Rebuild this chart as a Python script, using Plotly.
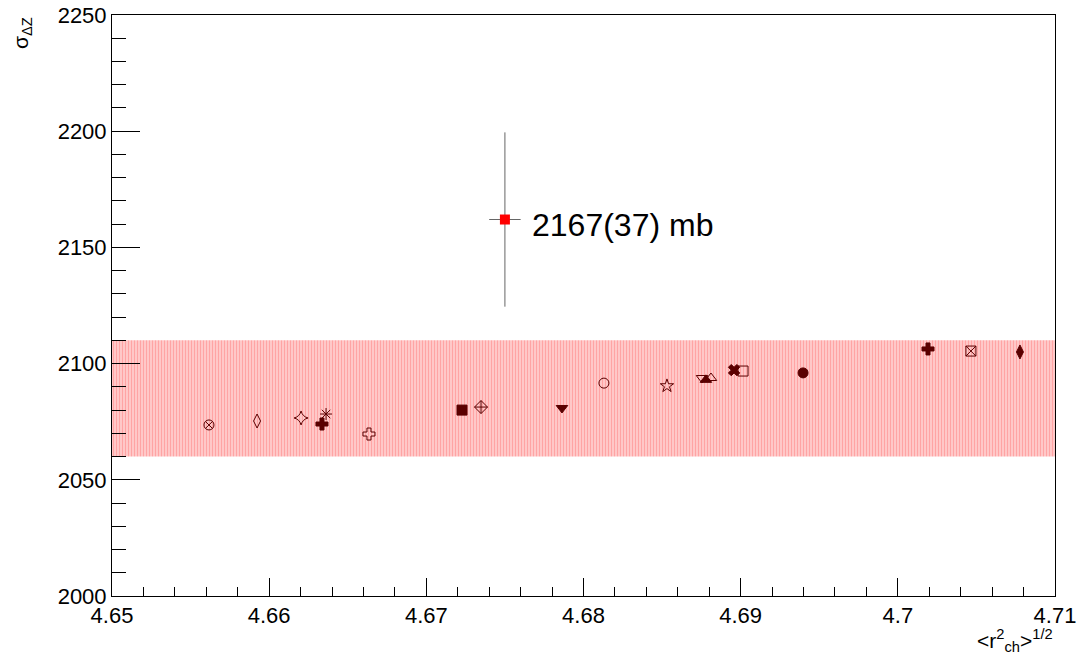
import plotly.graph_objects as go

# ---- data ----
radius = [4.65617, 4.65923, 4.66203, 4.66362, 4.66336, 4.66635, 4.67227, 4.67348,
          4.67863, 4.68130, 4.68531, 4.68754, 4.68779, 4.68811, 4.68958, 4.69015,
          4.69397, 4.70192, 4.70465, 4.70777]
sigma = [2073.6, 2075.3, 2076.6, 2078.3, 2074.0, 2069.7, 2080.0, 2081.3,
         2080.9, 2091.6, 2090.4, 2093.8, 2093.0, 2093.8, 2097.2, 2096.8,
         2096.0, 2106.3, 2105.4, 2105.0]
symbols = ["circle-x-open", "diamond-tall-open", "star-diamond-open", "asterisk-open",
           "cross", "cross-open", "square", "diamond-cross-open",
           "triangle-down", "circle-open", "star-open", "triangle-down-open",
           "triangle-up", "triangle-up-open", "x", "square-open",
           "circle", "cross", "square-x-open", "diamond-tall"]

band_center = 2085.0
band_half = 25.0
band_x = [4.65, 4.71]

meas_x = [4.675]
meas_y = [2162.0]
meas_ex = [0.001]
meas_ey = [37.5]
meas_label = "2167(37) mb"

x_range = [4.65, 4.71]
y_range = [2000, 2250]

fig = go.Figure()

# band
lo = band_center - band_half
hi = band_center + band_half
fig.add_trace(go.Scatter(
    x=[band_x[0], band_x[1], band_x[1], band_x[0], band_x[0]],
    y=[lo, lo, hi, hi, lo],
    fill="toself", mode="lines", line=dict(width=0),
    fillcolor="rgba(255,150,150,0.55)",
    fillpattern=dict(shape="|", fgcolor="rgba(255,120,120,0.9)",
                     bgcolor="rgba(255,200,200,1)", size=3, solidity=0.35),
    hoverinfo="skip", showlegend=False))

# model points
for xv, yv, s in zip(radius, sigma, symbols):
    fig.add_trace(go.Scatter(
        x=[xv], y=[yv], mode="markers",
        marker=dict(symbol=s, size=10, color="#5a0000",
                    line=dict(color="#5a0000", width=1)),
        showlegend=False))

# measurement
fig.add_trace(go.Scatter(
    x=meas_x, y=meas_y, mode="markers",
    marker=dict(symbol="square", size=10, color="#ff0000"),
    error_x=dict(type="data", array=meas_ex, color="#666666", thickness=1, width=0),
    error_y=dict(type="data", array=meas_ey, color="#666666", thickness=1, width=0),
    showlegend=False))

fig.add_annotation(x=4.6766, y=2159.5, xref="x", yref="y", text=meas_label,
                   showarrow=False, xanchor="left", yanchor="middle",
                   font=dict(size=32, color="black"))

# axis titles
fig.add_annotation(x=-0.0955, y=1.0, xref="paper", yref="paper",
                   text="σ<sub>ΔZ</sub>", showarrow=False, textangle=-90,
                   xanchor="center", yanchor="top", font=dict(size=21, color="black"))
fig.add_annotation(x=1.0, y=0, xref="paper", yref="paper", yshift=-28,
                   text="&lt;r<sup>2</sup><sub>ch</sub>&gt;<sup>1/2</sup>",
                   showarrow=False, xanchor="right", yanchor="top",
                   font=dict(size=21, color="black"))

fig.update_xaxes(range=x_range, tickvals=[4.65, 4.66, 4.67, 4.68, 4.69, 4.70, 4.71],
                 ticktext=["4.65", "4.66", "4.67", "4.68", "4.69", "4.7", "4.71"],
                 ticks="inside", ticklen=18, tickcolor="black", tickwidth=1,
                 minor=dict(ticks="inside", ticklen=9, dtick=0.002, tickcolor="black", tickwidth=1),
                 showline=True, linecolor="black", linewidth=1, mirror=True,
                 showgrid=False, zeroline=False,
                 tickfont=dict(size=22, color="black"))
fig.update_yaxes(range=y_range, tickvals=[2000, 2050, 2100, 2150, 2200, 2250],
                 ticks="inside", ticklen=28, tickcolor="black", tickwidth=1,
                 minor=dict(ticks="inside", ticklen=14, dtick=10, tickcolor="black", tickwidth=1),
                 showline=True, linecolor="black", linewidth=1, mirror=True,
                 showgrid=False, zeroline=False,
                 tickfont=dict(size=22, color="black"))

fig.update_layout(width=1081, height=654,
                  margin=dict(l=112, r=26, t=15, b=58, autoexpand=False),
                  plot_bgcolor="white", paper_bgcolor="white",
                  font=dict(family="Liberation Sans, Arial, sans-serif", color="black"))

fig.write_html("out.html")
